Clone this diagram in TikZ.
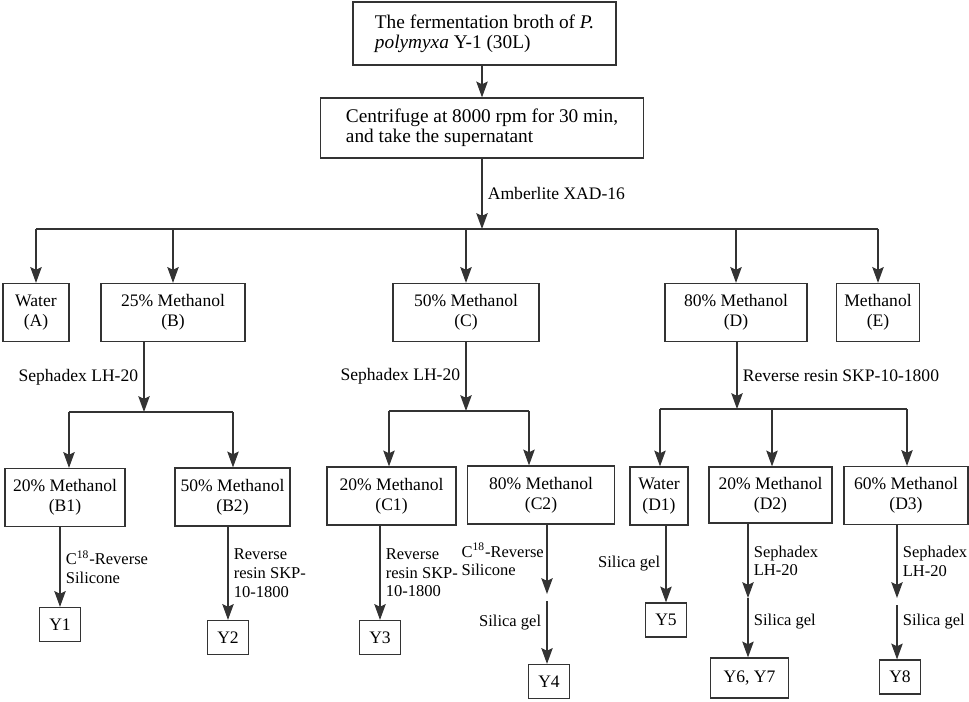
\documentclass[tikz,border=0pt]{standalone}
\usepackage{fontspec}
\setmainfont{Liberation Serif}
\usetikzlibrary{arrows.meta,calc}
\tikzset{
    box/.style={draw=black!80, line width=0.7pt, minimum height=1.16cm,
                inner sep=2pt, align=center, font=\fontsize{10}{11.5}\selectfont},
    top box/.style={box, align=left, font=\fontsize{11}{11.5}\selectfont},
    yield/.style={box, minimum height=0.68cm, minimum width=0.82cm},
    flow/.style={draw=black!80, -{Stealth[length=9pt,width=6.5pt,inset=1.5pt]}, line width=0.7pt},
    rail/.style={draw=black!80, line width=0.7pt},
    note/.style={font=\fontsize{10}{11}\selectfont, align=left, inner sep=3pt},
    small note/.style={note, font=\fontsize{9.4}{10.6}\selectfont},
}

\begin{document}
\begin{tikzpicture}[x=0.02cm, y=-0.02cm]
    \path[use as bounding box] (0,0) rectangle (969,701);

    % broth and supernatant
    \node[top box, minimum width=5.26cm, minimum height=1.26cm] (broth) at (484.5,33.5)
        {The fermentation broth of \textit{P.}\\\textit{polymyxa} Y-1 (30L)};
    \node[top box, minimum width=6.46cm, minimum height=1.2cm] (spin) at (482,128)
        {Centrifuge at 8000 rpm for 30 min,\\and take the supernatant};
    \draw[flow] (spin.north |- broth.south) -- (spin.north);

    % XAD-16 fractions
    \node[box, minimum width=1.32cm] (fA) at (36,312.5) {Water\\(A)};
    \node[box, minimum width=2.88cm] (fB) at (173,312.5) {25\% Methanol\\(B)};
    \node[box, minimum width=2.92cm] (fC) at (466,312.5) {50\% Methanol\\(C)};
    \node[box, minimum width=2.84cm] (fD) at (736,312.5) {80\% Methanol\\(D)};
    \node[box, minimum width=1.66cm] (fE) at (878,312.5) {Methanol\\(E)};
    \coordinate (xad) at (482,229);
    \draw[flow] (spin.south) -- node[note, right] {Amberlite XAD-16} (xad);
    \draw[rail] (fA.north |- xad) -- (fE.north |- xad);
    \foreach \f in {fA,fB,fC,fD,fE}
        \draw[flow] (\f.north |- xad) -- (\f.north);

    % B branch
    \node[box, minimum width=2.4cm] (fB1) at (65,497.5) {20\% Methanol\\(B1)};
    \node[box, minimum width=2.3cm] (fB2) at (232.5,497) {50\% Methanol\\(B2)};
    \coordinate (lhB) at (144,412);
    \coordinate (toB1) at (69,412);
    \coordinate (toB2) at (233,412);
    \draw[flow] (lhB |- fB.south) -- node[note, left] {Sephadex LH-20} (lhB);
    \draw[rail] (toB1) -- (toB2);
    \draw[flow] (toB1) -- (toB1 |- fB1.north);
    \draw[flow] (toB2) -- (toB2 |- fB2.north);

    \node[yield] (y1) at (60,624.5) {Y1};
    \node[yield] (y2) at (228,637.5) {Y2};
    \draw[flow] (y1.north |- fB1.south) -- node[small note, right] {C\textsuperscript{18}-Reverse\\Silicone} (y1.north);
    \draw[flow] (y2.north |- fB2.south) -- node[small note, right] {Reverse\\resin SKP-\\10-1800} (y2.north);

    % C branch
    \node[box, minimum width=2.58cm] (fC1) at (391.5,496) {20\% Methanol\\(C1)};
    \node[box, minimum width=2.94cm] (fC2) at (541,495) {80\% Methanol\\(C2)};
    \coordinate (lhC) at (466,411);
    \coordinate (toC1) at (389,411);
    \coordinate (toC2) at (529,411);
    \draw[flow] (lhC |- fC.south) -- node[note, left] {Sephadex LH-20} (lhC);
    \draw[rail] (toC1) -- (toC2);
    \draw[flow] (toC1) -- (toC1 |- fC1.north);
    \draw[flow] (toC2) -- (toC2 |- fC2.north);

    \node[yield] (y3) at (380,637.5) {Y3};
    \node[yield] (y4) at (549,681.5) {Y4};
    \coordinate (c18C) at (547,594);
    \coordinate (silC) at (547,601);
    \draw[flow] (y3.north |- fC1.south) -- node[small note, right] {Reverse\\resin SKP-\\10-1800} (y3.north);
    \draw[flow] (c18C |- fC2.south) -- node[small note, left, inner sep=1.5pt] {C\textsuperscript{18}-Reverse\\Silicone} (c18C);
    \draw[flow] (silC) -- node[small note, left, pos=0.35] {Silica gel} (silC |- y4.north);

    % D branch
    \node[box, minimum width=1.16cm] (fD1) at (659,496) {Water\\(D1)};
    \node[box, minimum width=2.46cm, minimum height=1.12cm] (fD2) at (770.5,495) {20\% Methanol\\(D2)};
    \node[box, minimum width=2.48cm] (fD3) at (906,495.5) {60\% Methanol\\(D3)};
    \coordinate (skpD) at (737,409);
    \coordinate (toD1) at (660,409);
    \coordinate (toD2) at (772,409);
    \coordinate (toD3) at (907,409);
    \draw[flow] (skpD |- fD.south) -- node[note, right] {Reverse resin SKP-10-1800} (skpD);
    \draw[rail] (toD1) -- (toD3);
    \foreach \t/\f in {toD1/fD1,toD2/fD2,toD3/fD3}
        \draw[flow] (\t) -- (\t |- \f.north);

    \node[yield] (y5) at (666,620) {Y5};
    \node[yield, minimum width=1.56cm, minimum height=0.8cm] (y67) at (749.5,678) {Y6, Y7};
    \node[yield] (y8) at (900,677) {Y8};
    \coordinate (lhD2) at (748,598);
    \coordinate (lhD3) at (897,598);
    \coordinate (silD3) at (897,605);
    \draw[flow] (y5.north |- fD1.south) -- node[small note, left] {Silica gel} (y5.north);
    \draw[flow] (lhD2 |- fD2.south) -- node[small note, right] {Sephadex\\LH-20} (lhD2);
    \draw[flow] (lhD2) -- node[small note, right, pos=0.4] {Silica gel} (lhD2 |- y67.north);
    \draw[flow] (lhD3 |- fD3.south) -- node[small note, right] {Sephadex\\LH-20} (lhD3);
    \draw[flow] (silD3) -- node[small note, right, pos=0.3] {Silica gel} (silD3 |- y8.north);
\end{tikzpicture}
\end{document}
